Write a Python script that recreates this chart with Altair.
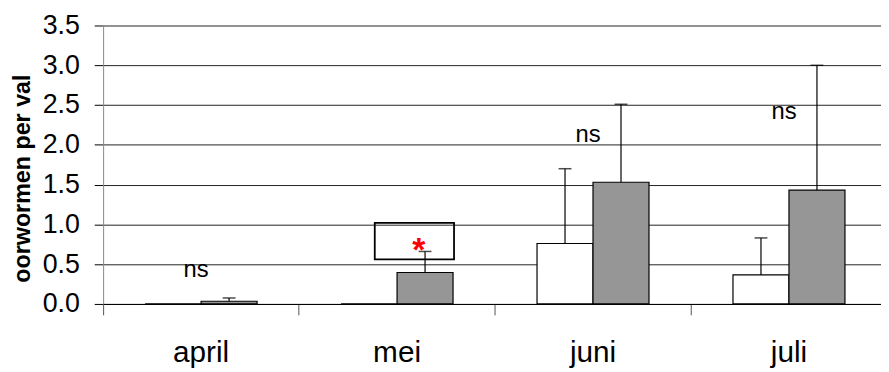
import altair as alt
import pandas as pd

months = ["april", "mei", "juni", "juli"]
groups = ["zonder", "met"]
mean_white = [0.0, 0.0, 0.76, 0.365]
upper_white = [0.0, 0.0, 1.70, 0.83]
mean_gray = [0.034, 0.395, 1.53, 1.43]
upper_gray = [0.075, 0.66, 2.51, 3.0]

ns_months = ["april", "juni", "juli"]
ns_y = [0.336, 2.04, 2.32]

box_month = ["mei"]
box_low = [0.56]
box_high = [1.02]
star_y = [0.55]

y_ticks = [0.0, 0.5, 1.0, 1.5, 2.0, 2.5, 3.0, 3.5]

rows = []
for i, m in enumerate(months):
    rows.append({"month": m, "group": groups[0], "mean": mean_white[i], "upper": upper_white[i]})
    rows.append({"month": m, "group": groups[1], "mean": mean_gray[i], "upper": upper_gray[i]})
df = pd.DataFrame(rows)
df_err = df[df["upper"] > df["mean"]]
df_ns = pd.DataFrame({"month": ns_months, "y": ns_y, "t": ["ns"] * len(ns_months)})
df_box = pd.DataFrame({"month": box_month, "lo": box_low, "hi": box_high, "s": star_y})

FONT = "Liberation Sans"

x_enc = alt.X(
    "month:N",
    sort=months,
    scale=alt.Scale(domain=months, paddingInner=0, paddingOuter=0, range=[0, 791]),
    axis=alt.Axis(
        title=None,
        bandPosition=0,
        labelFontSize=30,
        labelFont=FONT,
        labelColor="black",
        labelBaseline="alphabetic",
        labelPadding=47,
        labelAngle=0,
        tickSize=11,
        tickColor="#555555",
        domainColor="black",
        grid=False,
    ),
)
xo_enc = alt.XOffset(
    "group:N", sort=groups,
    scale=alt.Scale(domain=groups, paddingInner=0, paddingOuter=0.75),
)
y_scale = alt.Scale(domain=[0, 3.5], nice=False, zero=True)
y_enc = alt.Y(
    "mean:Q",
    scale=y_scale,
    axis=alt.Axis(
        title="oorwormen per val",
        titleFont=FONT,
        titleFontSize=23.5,
        titleFontWeight="bold",
        titleColor="black",
        titleX=-81,
        titleY=154,
        titleAngle=270,
        titleAlign="center",
        titleBaseline="middle",
        values=y_ticks,
        format=".1f",
        labelFont=FONT,
        labelFontSize=27,
        labelColor="black",
        labelPadding=15,
        tickSize=9,
        tickColor="black",
        domainColor="#888888",
        gridColor="#222222",
        gridWidth=1,
    ),
)

base = alt.Chart(df)
bars = base.mark_bar(stroke="black", strokeWidth=1.2).encode(
    x=x_enc,
    xOffset=xo_enc,
    y=y_enc,
    fill=alt.Fill("group:N", scale=alt.Scale(domain=groups, range=["white", "#969696"]), legend=None),
)
err = alt.Chart(df_err).mark_rule(color="black", strokeWidth=1.2).encode(
    x=alt.X("month:N", sort=months),
    xOffset=alt.XOffset("group:N", sort=groups),
    y=alt.Y("mean:Q"),
    y2="upper:Q",
)
caps = alt.Chart(df_err).mark_tick(color="black", size=13, thickness=1.5).encode(
    x=alt.X("month:N", sort=months),
    xOffset=alt.XOffset("group:N", sort=groups),
    y=alt.Y("upper:Q"),
)
ns = alt.Chart(df_ns).mark_text(font=FONT, fontSize=24, color="black", baseline="alphabetic", dx=-5).encode(
    x=alt.X("month:N", sort=months),
    y=alt.Y("y:Q"),
    text="t:N",
)
box = alt.Chart(df_box).mark_bar(width=80, xOffset=17.5, fillOpacity=0, stroke="black", strokeWidth=1.8).encode(
    x=alt.X("month:N", sort=months),
    y=alt.Y("lo:Q"),
    y2="hi:Q",
)
star = alt.Chart(df_box).mark_text(
    text="*", font=FONT, fontSize=34, fontWeight="bold", color="#ff0000", baseline="alphabetic", dx=22, dy=1
).encode(
    x=alt.X("month:N", sort=months),
    y=alt.Y("s:Q"),
)

chart = (
    alt.layer(bars, err, caps, ns, box, star)
    .properties(
        width=785,
        height=281,
        autosize=alt.AutoSizeParams(type="none"),
        padding={"left": 96, "top": 16, "right": 0, "bottom": 66},
        background="white",
    )
    .configure_view(stroke=None)
)

chart.save("out.html", embed_options={"renderer": "svg", "actions": False})
